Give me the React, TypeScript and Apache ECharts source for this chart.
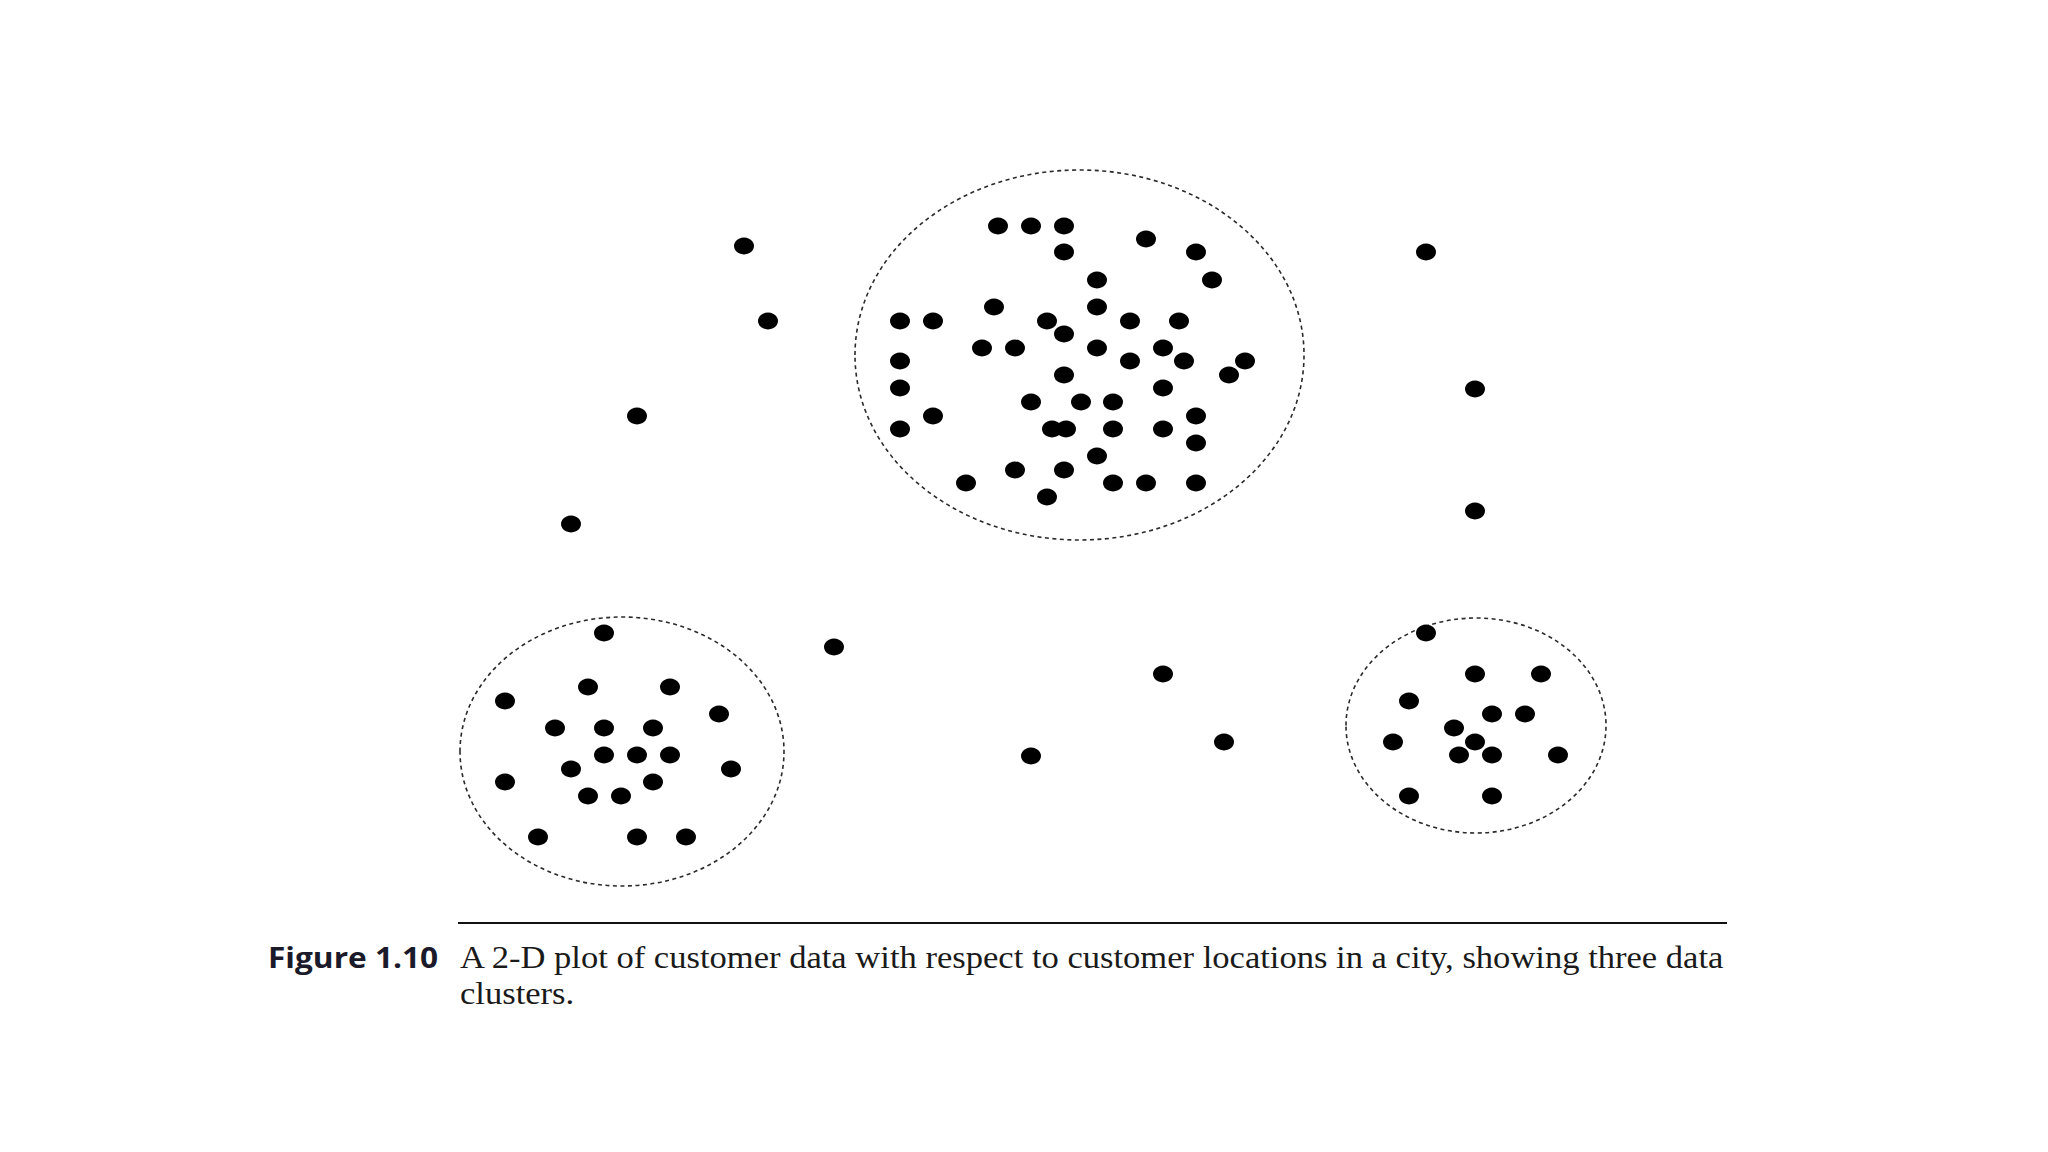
import React, { useEffect, useRef } from "react";
import * as echarts from "echarts";

// Customer locations (arbitrary city grid units)
const topClusterPoints: number[][] = [
  [59.8, 72.4], [63.1, 72.4], [66.4, 72.4], [74.6, 71.1], [66.4, 69.8], [79.6, 69.8],
  [69.7, 67.0], [81.2, 67.0], [59.4, 64.3], [69.7, 64.3], [50.0, 62.9], [53.3, 62.9],
  [64.7, 62.9], [73.0, 62.9], [77.9, 62.9], [66.4, 61.6], [58.2, 60.2], [61.5, 60.2],
  [69.7, 60.2], [76.3, 60.2], [50.0, 58.9], [73.0, 58.9], [78.4, 58.9], [84.5, 58.9],
  [66.4, 57.5], [82.9, 57.5], [50.0, 56.2], [76.3, 56.2], [63.1, 54.8], [68.1, 54.8],
  [71.3, 54.8], [53.3, 53.4], [79.6, 53.4], [50.0, 52.1], [65.2, 52.1], [66.6, 52.1],
  [71.3, 52.1], [76.3, 52.1], [79.6, 50.7], [69.7, 49.4], [61.5, 48.0], [66.4, 48.0],
  [56.6, 46.7], [71.3, 46.7], [74.6, 46.7], [79.6, 46.7], [64.7, 45.3],
];

const leftClusterPoints: number[][] = [
  [20.4, 31.7], [18.8, 26.3], [27.0, 26.3], [10.5, 24.9], [31.9, 23.6], [15.5, 22.2],
  [20.4, 22.2], [25.3, 22.2], [20.4, 19.5], [23.7, 19.5], [27.0, 19.5], [17.1, 18.1],
  [33.1, 18.1], [10.5, 16.8], [25.3, 16.8], [18.8, 15.4], [22.1, 15.4], [13.8, 11.3],
  [23.7, 11.3], [28.6, 11.3],
];

const rightClusterPoints: number[][] = [
  [102.6, 31.7], [107.5, 27.6], [114.1, 27.6], [100.9, 24.9], [109.2, 23.6], [112.5, 23.6],
  [105.4, 22.2], [107.5, 20.8], [99.3, 20.8], [105.9, 19.5], [109.2, 19.5], [115.8, 19.5],
  [100.9, 15.4], [109.2, 15.4],
];

const outlierPoints: number[][] = [
  [34.4, 70.4], [36.8, 62.9], [23.7, 53.4], [17.1, 42.6], [102.6, 69.8], [107.5, 56.1],
  [107.5, 43.9], [43.4, 30.3], [76.3, 27.6], [63.1, 19.4], [82.4, 20.8],
];

// Cluster boundaries: [centerX, centerY, radiusX, radiusY]
const clusterEllipses: number[][] = [
  [67.95, 59.5, 22.45, 18.5],
  [22.2, 19.85, 16.2, 13.45],
  [107.6, 22.45, 13.0, 10.75],
];

const captionLabel = "Figure 1.10";
const captionLine1 =
  "A 2-D plot of customer data with respect to customer locations in a city, showing three data";
const captionLine2 = "clusters.";

export default function App() {
  const ref = useRef<HTMLDivElement>(null);

  useEffect(() => {
    document.body.style.margin = "0";
    const chart = echarts.init(ref.current!, null, { renderer: "svg" });
    const allPoints = [
      ...topClusterPoints,
      ...leftClusterPoints,
      ...rightClusterPoints,
      ...outlierPoints,
    ];
    chart.setOption({
      animation: false,
      backgroundColor: "#ffffff",
      grid: { left: 400, top: 150, width: 1300, height: 800 },
      xAxis: { type: "value", min: 0, max: 130, show: false },
      yAxis: { type: "value", min: 0, max: 80, show: false },
      series: [
        {
          type: "custom",
          data: clusterEllipses,
          silent: true,
          z: 1,
          renderItem: (params: any, api: any) => {
            const c = api.coord([api.value(0), api.value(1)]);
            const s = api.size([api.value(2), api.value(3)]);
            return {
              type: "ellipse",
              shape: { cx: c[0], cy: c[1], rx: s[0], ry: s[1] },
              style: {
                fill: "none",
                stroke: "#2a2a2a",
                lineWidth: 1.6,
                lineDash: [4, 3.5],
              },
            };
          },
        },
        {
          type: "scatter",
          data: allPoints,
          symbol: "circle",
          symbolSize: [20, 17],
          itemStyle: { color: "#000000", opacity: 1 },
          z: 2,
        },
      ],
      graphic: [
        {
          type: "line",
          shape: { x1: 458, y1: 923, x2: 1727, y2: 923 },
          style: { stroke: "#111", lineWidth: 2 },
        },
        {
          type: "text",
          x: 268,
          y: 957,
          scaleX: 1.13,
          style: {
            text: captionLabel,
            font: "bold 28px 'Open Sans'",
            fill: "#1a1a2a",
            textVerticalAlign: "middle",
          },
        },
        {
          type: "text",
          x: 460,
          y: 957,
          scaleX: 1.08,
          style: {
            text: captionLine1,
            font: "32px 'Liberation Serif'",
            fill: "#1a1a1a",
            textVerticalAlign: "middle",
          },
        },
        {
          type: "text",
          x: 460,
          y: 993,
          scaleX: 1.08,
          style: {
            text: captionLine2,
            font: "32px 'Liberation Serif'",
            fill: "#1a1a1a",
            textVerticalAlign: "middle",
          },
        },
      ],
    });
    return () => chart.dispose();
  }, []);

  return (
    <div
      ref={ref}
      style={{ position: "fixed", left: 0, top: 0, width: 2048, height: 1152 }}
    />
  );
}
